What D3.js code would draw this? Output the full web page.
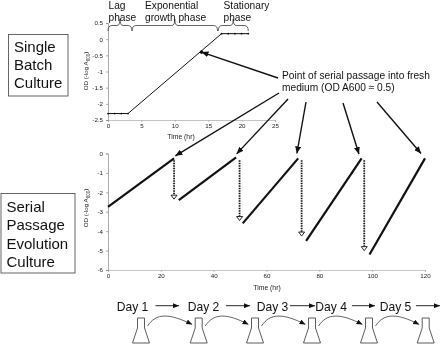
<!DOCTYPE html>
<html>
<head>
<meta charset="utf-8">
<script src="https://cdn.jsdelivr.net/npm/d3@7"></script>
<style>
  html, body { margin: 0; padding: 0; background: #fff; }
  svg { display: block; font-family: "Liberation Sans", Arial, sans-serif; filter: blur(0.35px); }
</style>
</head>
<body>
<div id="chart"></div>
<script>
(function () {
  'use strict';

  /* growth curve, single batch culture (time in hr, OD) */
  var batchTime = [0, 1, 2, 3, 17, 18, 19, 20, 21];
  var batchOD = [-2.3, -2.3, -2.3, -2.3, 0.17, 0.17, 0.17, 0.17, 0.17];
  var passagePoint = [14, -0.4];
  var batchXTicks = [0, 5, 10, 15, 20, 25];
  var batchYTicks = [0.5, 0, -0.5, -1, -1.5, -2, -2.5];
  var phaseEdges = [[0, 3.6], [3.6, 16.4], [16.5, 21]];

  /* serial passage segments */
  var serialStartTime = [0, 26.8, 51, 75, 99];
  var serialStartOD = [-2.75, -2.4, -3.6, -4.5, -5.2];
  var serialEndTime = [25, 48.5, 72, 96, 120];
  var serialEndOD = [-0.25, -0.2, -0.25, -0.25, -0.25];
  var dilutionTime = [25, 49.8, 73.3, 97];
  var dilutionOD = [-2.3, -3.4, -4.2, -4.95];
  var serialXTicks = [0, 20, 40, 60, 80, 100, 120];
  var serialYTicks = [0, -1, -2, -3, -4, -5, -6];

  /* where the callout arrows land on the lower chart */
  var calloutTime = [25.5, 48.7, 71.5, 95, 118.5];
  var calloutOD = [-0.12, -0.02, 0, -0.03, 0];

  var dayLabels = ['Day 1', 'Day 2', 'Day 3', 'Day 4', 'Day 5'];

  var width = 440;
  var height = 344;
  var INK = '#111';

  var svg = d3.select('#chart').append('svg')
    .attr('width', width)
    .attr('height', height);

  var defs = svg.append('defs');
  _marker('solidHead', 7, 6, INK);
  _marker('smallHead', 6, 5, INK);

  var xTop = d3.scaleLinear().domain([0, 25]).range([108, 275]);
  var yTop = d3.scaleLinear().domain([-2.5, 0.5]).range([120, 23]);
  var xBottom = d3.scaleLinear().domain([0, 120]).range([108, 425]);
  var yBottom = d3.scaleLinear().domain([-6, 0]).range([270, 153.5]);

  _drawAxes(xTop, yTop, batchXTicks, batchYTicks, 181, 71, 139);
  _drawAxes(xBottom, yBottom, serialXTicks, serialYTicks, 267, 208, 290);

  _drawBatch();
  _drawSerial();
  _drawBoxes();
  _drawLabels();
  _drawCallouts();
  _drawDays();

  function _marker(id, w, h, color) {
    defs.append('marker')
      .attr('id', id)
      .attr('markerUnits', 'userSpaceOnUse')
      .attr('viewBox', '0 0 ' + w + ' ' + h)
      .attr('refX', w)
      .attr('refY', h / 2)
      .attr('markerWidth', w)
      .attr('markerHeight', h)
      .attr('orient', 'auto')
      .append('path')
      .attr('d', 'M0,0L' + w + ',' + (h / 2) + 'L0,' + h + 'Z')
      .attr('fill', color);
  }

  function _drawAxes(x, y, xTicks, yTicks, xTitleX, yTitleY, xTitleY) {
    var bottom = y.range()[0];
    var left = x.range()[0];

    var xAxis = svg.append('g')
      .attr('transform', 'translate(0,' + bottom + ')')
      .call(d3.axisBottom(x).tickValues(xTicks).tickFormat(String).tickSize(2).tickPadding(2));
    var yAxis = svg.append('g')
      .attr('transform', 'translate(' + left + ',0)')
      .call(d3.axisLeft(y).tickValues(yTicks).tickFormat(String).tickSize(2).tickPadding(3));

    xAxis.selectAll('path, line').attr('stroke', '#aaa').attr('stroke-width', 0.7);
    yAxis.selectAll('path, line').attr('stroke', '#888').attr('stroke-width', 0.7);
    svg.selectAll('g text')
      .attr('font-size', 6.2)
      .attr('font-family', '"Liberation Sans", Arial, sans-serif')
      .attr('fill', '#222');

    svg.append('text')
      .attr('x', xTitleX)
      .attr('y', xTitleY)
      .attr('text-anchor', 'middle')
      .attr('font-size', 6.8)
      .attr('fill', '#222')
      .text('Time (hr)');

    var yTitle = svg.append('text')
      .attr('transform', 'translate(88,' + yTitleY + ') rotate(-90)')
      .attr('text-anchor', 'middle')
      .attr('font-size', 6.2)
      .attr('fill', '#222');
    yTitle.append('tspan').text('OD (-log A');
    yTitle.append('tspan').attr('font-size', 4.5).attr('dy', 1.5).text('600');
    yTitle.append('tspan').attr('dy', -1.5).text(')');
  }

  function _drawBatch() {
    var line = d3.line()
      .x(function (d) { return xTop(d); })
      .y(function (d, i) { return yTop(batchOD[i]); });

    svg.append('path')
      .attr('d', line(batchTime))
      .attr('fill', 'none')
      .attr('stroke', INK)
      .attr('stroke-width', 1);

    svg.selectAll('.batch-tick')
      .data(batchTime)
      .enter()
      .append('circle')
      .attr('class', 'batch-tick')
      .attr('cx', function (d) { return xTop(d); })
      .attr('cy', function (d, i) { return yTop(batchOD[i]); })
      .attr('r', 0.9)
      .attr('fill', INK);

    svg.append('circle')
      .attr('cx', xTop(passagePoint[0]))
      .attr('cy', yTop(passagePoint[1]))
      .attr('r', 1.8)
      .attr('fill', INK);

    /* phase braces */
    phaseEdges.forEach(function (edge) {
      svg.append('path')
        .attr('d', _brace(xTop(edge[0]), xTop(edge[1]), 31, 25.5, 19))
        .attr('fill', 'none')
        .attr('stroke', '#222')
        .attr('stroke-width', 0.7);
    });
  }

  function _brace(x0, x1, yEnd, yMid, yTip) {
    var tip = (x0 + x1) / 2;
    return 'M' + x0 + ',' + yEnd +
      'Q' + x0 + ',' + yMid + ' ' + (x0 + 4) + ',' + yMid +
      'L' + (tip - 3) + ',' + yMid +
      'Q' + tip + ',' + yMid + ' ' + tip + ',' + yTip +
      'Q' + tip + ',' + yMid + ' ' + (tip + 3) + ',' + yMid +
      'L' + (x1 - 4) + ',' + yMid +
      'Q' + x1 + ',' + yMid + ' ' + x1 + ',' + yEnd;
  }

  function _drawSerial() {
    svg.selectAll('.growth')
      .data(serialStartTime)
      .enter()
      .append('line')
      .attr('class', 'growth')
      .attr('x1', function (d) { return xBottom(d); })
      .attr('y1', function (d, i) { return yBottom(serialStartOD[i]); })
      .attr('x2', function (d, i) { return xBottom(serialEndTime[i]); })
      .attr('y2', function (d, i) { return yBottom(serialEndOD[i]); })
      .attr('stroke', INK)
      .attr('stroke-width', 2.2);

    /* dotted dilution drops with open heads */
    dilutionTime.forEach(function (t, i) {
      var x = xBottom(t);
      var y1 = yBottom(-0.35);
      var y2 = yBottom(dilutionOD[i]);
      svg.append('line')
        .attr('x1', x)
        .attr('x2', x)
        .attr('y1', y1)
        .attr('y2', y2 - 3)
        .attr('stroke', INK)
        .attr('stroke-width', 1.8)
        .attr('stroke-dasharray', '1.5 1');
      svg.append('path')
        .attr('d', 'M' + (x - 3) + ',' + (y2 - 3) + 'L' + (x + 3) + ',' + (y2 - 3) + 'L' + x + ',' + (y2 + 1) + 'Z')
        .attr('fill', '#fff')
        .attr('stroke', INK)
        .attr('stroke-width', 0.9);
    });
  }

  function _drawBoxes() {
    _textBox(8.5, 34.5, 59.5, 61.5, ['Single', 'Batch', 'Culture'], 14, 52, 18);
    _textBox(1, 193.5, 74, 79.5, ['Serial', 'Passage', 'Evolution', 'Culture'], 6.5, 212, 18.3);
  }

  function _textBox(x, y, w, h, lines, textX, firstBaseline, step) {
    svg.append('rect')
      .attr('x', x)
      .attr('y', y)
      .attr('width', w)
      .attr('height', h)
      .attr('fill', 'none')
      .attr('stroke', '#555')
      .attr('stroke-width', 0.9);
    lines.forEach(function (s, i) {
      svg.append('text')
        .attr('x', textX)
        .attr('y', firstBaseline + i * step)
        .attr('font-size', 15)
        .attr('fill', INK)
        .text(s);
    });
  }

  function _drawLabels() {
    var labels = [
      ['Lag', 108.5, 8.5], ['phase', 108.5, 20.5],
      ['Exponential', 145, 8.5], ['growth phase', 145, 20.5],
      ['Stationary', 223.5, 8.5], ['phase', 223.5, 20.5],
      ['Point of serial passage into fresh', 282, 78.5],
      ['medium (OD A600 \u2248 0.5)', 282, 91]
    ];
    labels.forEach(function (l) {
      svg.append('text')
        .attr('x', l[1])
        .attr('y', l[2])
        .attr('font-size', 10.2)
        .attr('fill', INK)
        .text(l[0]);
    });
  }

  function _arrow(x1, y1, x2, y2, marker, sw) {
    svg.append('line')
      .attr('x1', x1)
      .attr('y1', y1)
      .attr('x2', x2)
      .attr('y2', y2)
      .attr('stroke', INK)
      .attr('stroke-width', sw)
      .attr('marker-end', 'url(#' + marker + ')');
  }

  function _drawCallouts() {
    var tails = [[279, 93], [288, 99], [306, 102], [343, 103], [377, 102]];

    _arrow(278, 78, xTop(passagePoint[0]), yTop(passagePoint[1]), 'solidHead', 1.4);
    calloutTime.forEach(function (t, i) {
      _arrow(tails[i][0], tails[i][1], xBottom(t), yBottom(calloutOD[i]), 'solidHead', 1.4);
    });
  }

  function _drawDays() {
    var dayX = [116.7, 187.7, 256.7, 315.3, 379.7];
    var arrowEnds = [[155.5, 179], [226, 250], [290, 315], [352, 375], [416, 440]];
    var flaskX = [141, 198.7, 255, 312, 369, 425.7];

    dayLabels.forEach(function (s, i) {
      svg.append('text')
        .attr('x', dayX[i])
        .attr('y', 310.5)
        .attr('font-size', 12.1)
        .attr('fill', INK)
        .text(s);
      _arrow(arrowEnds[i][0], 305.7, arrowEnds[i][1], 305.7, 'smallHead', 0.9);
    });

    flaskX.forEach(function (x, i) {
      svg.append('path')
        .attr('d', 'M' + (x - 3.5) + ',318L' + (x + 3.5) + ',318L' + (x + 3.5) + ',328L' +
          (x + 8.5) + ',343L' + (x - 8.5) + ',343L' + (x - 3.5) + ',328Z')
        .attr('fill', '#fff')
        .attr('stroke', '#333')
        .attr('stroke-width', 0.8);
      if (i < flaskX.length - 1) {
        var next = flaskX[i + 1];
        svg.append('path')
          .attr('d', 'M' + (x + 6.5) + ',326C' + (x + 15) + ',313 ' + (x + 28) + ',313 ' + (next - 6.5) + ',324.5')
          .attr('fill', 'none')
          .attr('stroke', '#222')
          .attr('stroke-width', 0.7)
          .attr('marker-end', 'url(#smallHead)');
      }
    });
  }
}());
</script>
</body>
</html>
